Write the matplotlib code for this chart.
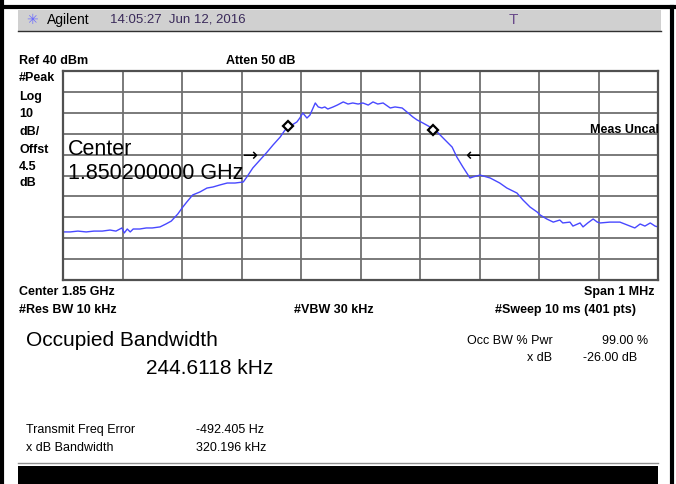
import matplotlib
matplotlib.use("Agg")
from matplotlib import pyplot as plt
from matplotlib.patches import Rectangle
from matplotlib.lines import Line2D

plt.rcParams['font.family'] = ['Liberation Sans', 'DejaVu Sans']

# trace, offset from 1.85 GHz centre (kHz) and level (dBm)
freq_khz = [-500, -488, -475, -461, -448, -434, -421, -411, -401, -397, -392, -387,
            -382, -371, -360, -350, -337, -327, -318, -307, -300, -292, -282, -270,
            -258, -248, -236, -224, -211, -197, -191, -181, -169, -157, -147, -135,
            -127, -115, -107, -102, -97, -90, -85, -76, -71, -65, -60, -55, -46, -39,
            -29, -21, -13, -4, 4, 13, 21, 29, 38, 50, 58, 70, 78, 88, 95, 105, 117,
            129, 139, 154, 162, 172, 184, 189, 201, 218, 234, 246, 263, 273, 285, 297,
            302, 313, 324, 335, 340, 352, 357, 369, 374, 382, 391, 398, 403, 419, 436,
            453, 461, 470, 478, 487, 495, 500]
level_dbm = [-37.0, -37.0, -36.6, -37.0, -36.6, -36.6, -36.1, -36.6, -35.1, -37.5, -35.6,
             -37.0, -35.6, -35.6, -35.1, -35.1, -34.6, -33.2, -31.8, -28.4, -25.6, -22.7,
             -19.3, -17.9, -16.0, -15.5, -14.5, -13.6, -13.6, -13.1, -10.7, -6.4, -2.6,
             1.2, 4.6, 8.4, 11.7, 14.2, 15.6, 17.5, 19.9, 17.5, 18.9, 24.7, 22.8, 22.3,
             22.8, 21.8, 22.8, 23.7, 25.2, 24.2, 24.7, 24.2, 24.7, 23.7, 25.2, 24.2, 24.7,
             22.3, 22.8, 22.3, 20.4, 18.0, 16.6, 15.1, 13.2, 10.8, 7.9, 3.6, -1.2, -5.9,
             -11.2, -10.7, -9.8, -11.2, -13.6, -16.0, -18.4, -21.7, -25.1, -27.5, -28.9,
             -30.8, -32.3, -31.3, -32.7, -32.3, -34.2, -32.7, -34.6, -32.7, -30.8, -32.3,
             -32.7, -32.3, -32.3, -34.2, -35.1, -33.2, -34.2, -32.7, -34.2, -34.6]

obw_marker_khz = [-122, 122]
obw_marker_dbm = [13.7, 11.8]
xdb_arrow_khz = [-185, 188]
xdb_arrow_dbm = [-0.4, -0.4]

W, H = 676, 484
fig = plt.figure(figsize=(W / 100, H / 100), dpi=100)


def fx(x):
    return x / W


def fy(y):
    return 1 - y / H


def label(x, y, s, size=9, bold=True, ha='left', color='black', **kw):
    fig.text(fx(x), fy(y), s, fontsize=size, fontweight='bold' if bold else 'normal',
             ha=ha, va='center', color=color, **kw)


# outer frame lines
fig.add_artist(Line2D([0, 1], [fy(7), fy(7)], color='black', lw=3))
fig.add_artist(Line2D([fx(2), fx(2)], [0, 1], color='black', lw=3))
fig.add_artist(Line2D([fx(672), fx(672)], [0, fy(7)], color='black', lw=3))

# header bar
fig.add_artist(Rectangle((fx(18), fy(31)), fx(643), fy(10) - fy(31), color='#d0d0d0', lw=0))
fig.add_artist(Line2D([fx(18), fx(661)], [fy(31), fy(31)], color='#303030', lw=1))
label(26, 20, '\u2733', size=10, bold=False, color='#6a6aff', family='DejaVu Sans')
label(47, 20, 'Agilent', size=10, bold=False)
label(110, 20, '14:05:27  Jun 12, 2016', size=9.5, bold=False, color='#3a2a5a')
label(509, 20, 'T', size=11, bold=False, color='#6a4a8a')

# bottom black bar
fig.add_artist(Rectangle((fx(18), 0), fx(640), fy(466), color='black', lw=0))
fig.add_artist(Line2D([fx(18), fx(658)], [fy(463), fy(463)], color='#909090', lw=1))

# trace area
ax = fig.add_axes([fx(63), fy(280), fx(595), fy(71) - fy(280)])
ax.set_xlim(-500, 500)
ax.set_ylim(-60, 40)
ax.set_xticks(range(-500, 501, 100))
ax.set_yticks(range(-60, 41, 10))
ax.grid(True, color='#707070', lw=1.3)
ax.tick_params(length=0, labelbottom=False, labelleft=False)
for sp in ax.spines.values():
    sp.set_color('#505050')
    sp.set_linewidth(1.6)
ax.plot(freq_khz, level_dbm, color='#4848ff', lw=1)
ax.plot(obw_marker_khz, obw_marker_dbm, ls='none', marker='D', ms=5,
        mfc='white', mec='black', mew=1.6)
ax.text(xdb_arrow_khz[0], xdb_arrow_dbm[0], '\u2192', ha='center', va='center',
        fontsize=13, family='DejaVu Sans')
ax.text(xdb_arrow_khz[1], xdb_arrow_dbm[1], '\u2190', ha='center', va='center',
        fontsize=13, family='DejaVu Sans')
ax.text(0.885, 0.72, 'Meas Uncal', transform=ax.transAxes, fontsize=9, fontweight='bold',
        va='center', clip_on=True)
ax.text(0.008, 0.568, 'Center\n1.850200000 GHz', transform=ax.transAxes, fontsize=15.5,
        va='center', linespacing=1.22)

# settings around the graticule
label(19, 61, 'Ref 40 dBm')
label(226, 61, 'Atten 50 dB')
for yy, s in zip([78, 97, 114, 132, 150, 167, 183],
                 ['#Peak', 'Log', '10', 'dB/', 'Offst', '4.5', 'dB']):
    label(19, yy, s)
label(19, 292, 'Center 1.85 GHz')
label(655, 292, 'Span 1 MHz', ha='right')
label(19, 310, '#Res BW 10 kHz')
label(294, 310, '#VBW 30 kHz')
label(495, 310, '#Sweep 10 ms (401 pts)')

# measurement results
label(26, 341, 'Occupied Bandwidth', size=15, bold=False)
label(146, 368, '244.6118 kHz', size=15, bold=False)
label(467, 341, 'Occ BW % Pwr', size=9, bold=False)
label(648, 341, '99.00 %', size=9, bold=False, ha='right')
label(552, 358, 'x dB', size=9, bold=False, ha='right')
label(637, 358, '-26.00 dB', size=9, bold=False, ha='right')
label(26, 430, 'Transmit Freq Error', size=9, bold=False)
label(196, 430, '-492.405 Hz', size=9, bold=False)
label(26, 448, 'x dB Bandwidth', size=9, bold=False)
label(196, 448, '320.196 kHz', size=9, bold=False)

fig.savefig('out.png', dpi=100)
